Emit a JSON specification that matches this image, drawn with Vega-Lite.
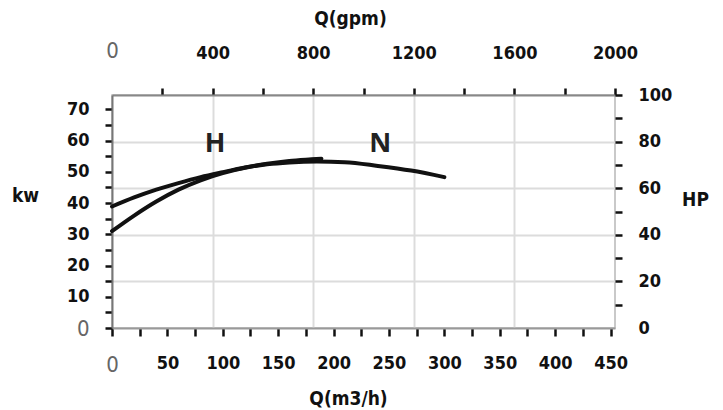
{
  "$schema": "https://vega.github.io/schema/vega-lite/v6.json",
  "width": 503,
  "height": 233,
  "autosize": {"type": "none"},
  "padding": {"left": 112, "top": 95, "right": 108, "bottom": 82},
  "background": "white",
  "config": {
    "view": {"stroke": "#b8b8b8", "strokeWidth": 1.5},
    "font": "DejaVu Sans Condensed, DejaVu Sans, sans-serif",
    "axis": {
      "labelFont": "DejaVu Sans Condensed, DejaVu Sans, sans-serif",
      "labelFontSize": 18,
      "labelFontWeight": "bold",
      "labelColor": "#111",
      "titleFont": "DejaVu Sans Condensed, DejaVu Sans, sans-serif",
      "titleFontSize": 19,
      "titleFontWeight": "bold",
      "titleColor": "#111",
      "tickColor": "#111",
      "tickWidth": 2.5,
      "tickSize": 7,
      "domainColor": "#888",
      "domainWidth": 2,
      "gridColor": "#dcdcdc",
      "gridWidth": 2,
      "labelFlush": false,
      "labelOverlap": false
    }
  },
  "resolve": {"scale": {"x": "independent", "y": "independent"}, "axis": {"x": "independent", "y": "independent"}},
  "layer": [
    {
      "data": {"values": [{"gpm": 0, "hp": 0}, {"gpm": 2000, "hp": 100}]},
      "mark": {"type": "point", "opacity": 0},
      "encoding": {
        "x": {
          "field": "gpm", "type": "quantitative",
          "scale": {"domain": [0, 2000], "nice": false},
          "axis": {
            "orient": "top",
            "title": "Q(gpm)",
            "values": [0, 200, 400, 600, 800, 1000, 1200, 1400, 1600, 1800, 2000],
            "labelExpr": "datum.value % 400 == 0 ? datum.label : ''",
            "format": "d",
            "labelPadding": 26,
            "labelColor": {"condition": {"test": "datum.value == 0", "value": "#666"}, "value": "#111"},
            "labelFontWeight": {"condition": {"test": "datum.value == 0", "value": "normal"}, "value": "bold"},
            "labelFontSize": {"condition": {"test": "datum.value == 0", "value": 22}, "value": 18},
            "tickSize": 7,
            "tickOpacity": {"condition": {"test": "datum.value == 0", "value": 0}, "value": 1},
            "grid": true,
            "gridOpacity": {"condition": {"test": "datum.value % 400 == 0 && datum.value > 0 && datum.value < 2000", "value": 1}, "value": 0},
            "titleX": 238,
            "titleY": -77,
            "titleAnchor": null,
            "titleAlign": "center",
            "titleBaseline": "middle"
          }
        },
        "y": {
          "field": "hp", "type": "quantitative",
          "scale": {"domain": [0, 100], "nice": false},
          "axis": {
            "orient": "right",
            "title": "HP",
            "values": [0, 10, 20, 30, 40, 50, 60, 70, 80, 90, 100],
            "labelExpr": "datum.value % 20 == 0 ? datum.label : ''",
            "labelPadding": 16,
            "tickOpacity": {"condition": {"test": "datum.value == 0", "value": 0}, "value": 1},
            "domain": false,
            "grid": true,
            "gridOpacity": {"condition": {"test": "datum.value % 20 == 0 && datum.value > 0 && datum.value < 100", "value": 1}, "value": 0},
            "titleAngle": 0,
            "titleX": 80,
            "titleY": 104,
            "titleAlign": "center",
            "titleBaseline": "middle"
          }
        }
      }
    },
    {
      "data": {
        "values": [
          {"curve": "H", "q": 0, "kw": 38.9},
          {"curve": "H", "q": 20, "kw": 41.8},
          {"curve": "H", "q": 40, "kw": 44.3},
          {"curve": "H", "q": 60, "kw": 46.4},
          {"curve": "H", "q": 80, "kw": 48.3},
          {"curve": "H", "q": 100, "kw": 49.9},
          {"curve": "H", "q": 120, "kw": 51.4},
          {"curve": "H", "q": 140, "kw": 52.6},
          {"curve": "H", "q": 160, "kw": 53.5},
          {"curve": "H", "q": 180, "kw": 54.0},
          {"curve": "H", "q": 189, "kw": 54.2},
          {"curve": "N", "q": 0, "kw": 31.0},
          {"curve": "N", "q": 20, "kw": 36.0},
          {"curve": "N", "q": 40, "kw": 40.5},
          {"curve": "N", "q": 60, "kw": 44.3},
          {"curve": "N", "q": 80, "kw": 47.3},
          {"curve": "N", "q": 100, "kw": 49.6},
          {"curve": "N", "q": 120, "kw": 51.3},
          {"curve": "N", "q": 140, "kw": 52.4},
          {"curve": "N", "q": 160, "kw": 53.0},
          {"curve": "N", "q": 185, "kw": 53.3},
          {"curve": "N", "q": 210, "kw": 53.1},
          {"curve": "N", "q": 240, "kw": 51.9},
          {"curve": "N", "q": 270, "kw": 50.4},
          {"curve": "N", "q": 300, "kw": 48.3}
        ]
      },
      "mark": {"type": "line", "interpolate": "monotone", "strokeWidth": 4, "color": "#111", "strokeCap": "round"},
      "encoding": {
        "x": {
          "field": "q", "type": "quantitative",
          "scale": {"domain": [0, 454], "nice": false, "zero": false},
          "axis": {
            "orient": "bottom",
            "title": "Q(m3/h)",
            "values": [0, 25, 50, 75, 100, 125, 150, 175, 200, 225, 250, 275, 300, 325, 350, 375, 400, 425, 450],
            "labelExpr": "datum.value % 50 == 0 ? datum.label : ''",
            "labelPadding": 18,
            "labelColor": {"condition": {"test": "datum.value == 0", "value": "#666"}, "value": "#111"},
            "labelFontWeight": {"condition": {"test": "datum.value == 0", "value": "normal"}, "value": "bold"},
            "labelFontSize": {"condition": {"test": "datum.value == 0", "value": 22}, "value": 18},
            "tickSize": 8,
            "grid": false,
            "domainColor": "#999",
            "titleX": 236,
            "titleY": 70,
            "titleAnchor": null,
            "titleAlign": "center",
            "titleBaseline": "middle"
          }
        },
        "y": {
          "field": "kw", "type": "quantitative",
          "scale": {"domain": [0, 74.6], "nice": false},
          "axis": {
            "orient": "left",
            "title": "kw",
            "values": [0, 5, 10, 15, 20, 25, 30, 35, 40, 45, 50, 55, 60, 65, 70],
            "labelExpr": "datum.value % 10 == 0 ? datum.label : ''",
            "labelPadding": 16,
            "labelColor": {"condition": {"test": "datum.value == 0", "value": "#666"}, "value": "#111"},
            "labelFontWeight": {"condition": {"test": "datum.value == 0", "value": "normal"}, "value": "bold"},
            "labelFontSize": {"condition": {"test": "datum.value == 0", "value": 22}, "value": 18},
            "grid": false,
            "domainColor": "#777",
            "titleAngle": 0,
            "titleX": -87,
            "titleY": 100,
            "titleAlign": "center",
            "titleBaseline": "middle"
          }
        },
        "detail": {"field": "curve"}
      }
    },
    {
      "data": {"values": [{"label": "H", "q": 93, "kw": 59}, {"label": "N", "q": 242, "kw": 59}]},
      "mark": {"type": "text", "font": "Open Sans", "fontSize": 27, "fontWeight": "bold", "color": "#222", "baseline": "middle", "align": "center"},
      "encoding": {
        "x": {"field": "q", "type": "quantitative", "scale": {"domain": [0, 454], "nice": false, "zero": false}, "axis": null},
        "y": {"field": "kw", "type": "quantitative", "scale": {"domain": [0, 74.6], "nice": false}, "axis": null},
        "text": {"field": "label"}
      }
    }
  ]
}
